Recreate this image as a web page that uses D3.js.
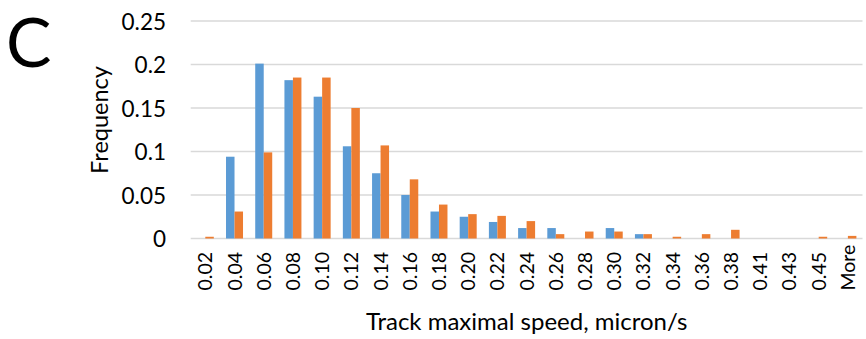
<!DOCTYPE html>
<html>
<head>
<meta charset="utf-8">
<script src="https://cdn.jsdelivr.net/npm/d3@7"></script>
<style>
  html, body { margin: 0; padding: 0; background: #fff; }
  svg { display: block; }
  text { font-family: Lato, "Open Sans", sans-serif; fill: #000; }
</style>
</head>
<body>
<svg id="chart" width="866" height="339"></svg>
<script>
// Histogram bins (upper edge of each speed bin)
const categories = ["0.02","0.04","0.06","0.08","0.10","0.12","0.14","0.16","0.18","0.20",
  "0.22","0.24","0.26","0.28","0.30","0.32","0.34","0.36","0.38","0.41","0.43","0.45","More"];

// Relative frequency per bin for the two track populations
const seriesBlue = [0, 0.094, 0.201, 0.182, 0.163, 0.106, 0.075, 0.050, 0.031, 0.025,
  0.019, 0.012, 0.012, 0, 0.012, 0.005, 0, 0, 0, 0, 0, 0, 0];
const seriesOrange = [0.002, 0.031, 0.099, 0.185, 0.185, 0.150, 0.107, 0.068, 0.039, 0.028,
  0.026, 0.020, 0.005, 0.008, 0.008, 0.005, 0.002, 0.005, 0.010, 0, 0, 0.002, 0.003];

const yTicks = [0, 0.05, 0.1, 0.15, 0.2, 0.25];
const yTickLabels = ["0", "0.05", "0.1", "0.15", "0.2", "0.25"];

const seriesNames = ["blue", "orange"];
const colors = { blue: "#5B9BD5", orange: "#ED7D31" };

const svg = d3.select("#chart");
const plotLeft = 190.7, plotRight = 862.5, plotTop = 21, plotBottom = 238.5;

const x = d3.scaleBand().domain(categories).range([plotLeft, plotRight])
  .paddingInner(0.418).paddingOuter(0.209);
const xs = d3.scaleBand().domain(seriesNames).range([0, x.bandwidth()]);
const y = d3.scaleLinear().domain([0, 0.25]).range([plotBottom, plotTop]);

// Horizontal gridlines
svg.append("g").selectAll("line").data(yTicks).join("line")
  .attr("x1", plotLeft).attr("x2", plotRight)
  .attr("y1", d => y(d)).attr("y2", d => y(d))
  .attr("stroke", "#d9d9d9").attr("stroke-width", 1.4);

// Y axis labels
const yAxis = d3.axisLeft(y).tickValues(yTicks)
  .tickFormat((d, i) => yTickLabels[i]).tickSize(0).tickPadding(0);
const gy = svg.append("g").attr("transform", `translate(166,0)`).call(yAxis);
gy.select(".domain").remove();
gy.selectAll("text").attr("font-size", 22.5).attr("font-family", "Lato, sans-serif").attr("dy", "0.36em");

// Bars
const rows = categories.map((c, i) => ({ c, blue: seriesBlue[i], orange: seriesOrange[i] }));
const groups = svg.append("g").selectAll("g").data(rows).join("g")
  .attr("transform", d => `translate(${x(d.c)},0)`);
groups.selectAll("rect")
  .data(d => seriesNames.map(k => ({ k, v: d[k] })))
  .join("rect")
  .attr("x", d => xs(d.k)).attr("width", xs.bandwidth())
  .attr("y", d => y(d.v)).attr("height", d => y(0) - y(d.v))
  .attr("fill", d => colors[d.k]);

// X axis labels, rotated
const xAxis = d3.axisBottom(x).tickSize(0).tickPadding(0);
const gx = svg.append("g").attr("transform", `translate(0,${plotBottom})`).call(xAxis);
gx.select(".domain").remove();
gx.selectAll("text")
  .attr("font-size", 19.5).attr("font-family", "Lato, sans-serif")
  .attr("text-anchor", "start")
  .attr("y", 0).attr("dy", 0)
  .attr("transform", "translate(7,52) rotate(-90)");

// Axis titles
svg.append("text").attr("x", (plotLeft + plotRight) / 2).attr("y", 330)
  .attr("text-anchor", "middle").attr("font-size", 24)
  .text("Track maximal speed, micron/s");
svg.append("text").attr("transform", "translate(108,120) rotate(-90)")
  .attr("text-anchor", "middle").attr("font-size", 23.5)
  .text("Frequency");

// Panel letter
svg.append("text").attr("x", 6).attr("y", 67).attr("font-size", 68).text("C");
</script>
</body>
</html>
